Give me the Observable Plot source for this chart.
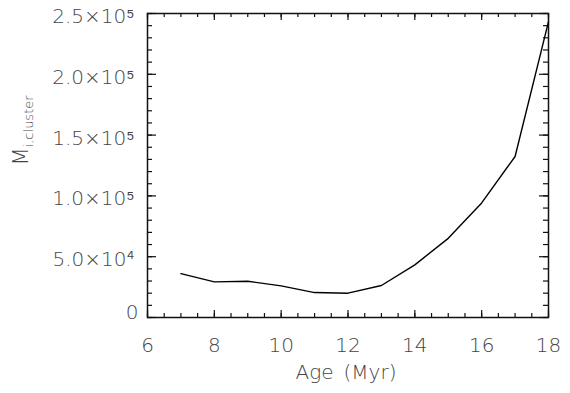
<!DOCTYPE html>
<html>
<head>
<meta charset="utf-8">
<script src="https://cdn.jsdelivr.net/npm/d3@7"></script>
<script src="https://cdn.jsdelivr.net/npm/@observablehq/plot@0.6"></script>
<style>
  html, body { margin: 0; padding: 0; background: #fff; }
  #chart svg { display: block; }
</style>
</head>
<body>
<div id="chart"></div>
<script>
// Data
const ages = [7, 8, 9, 10, 11, 12, 13, 14, 15, 16, 17, 18];
const masses = [36100, 29300, 29800, 26000, 20500, 20000, 26300, 43300, 65100, 94200, 132400, 243300];

// Axis ticks and labels
const xTicks = [6, 8, 10, 12, 14, 16, 18];
const xTickLabels = ["6", "8", "10", "12", "14", "16", "18"];
const yTicks = [0, 50000, 100000, 150000, 200000, 250000];
const yTickLabels = ["0", "5.0×10⁴", "1.0×10⁵", "1.5×10⁵", "2.0×10⁵", "2.5×10⁵"];
const xMinorStep = 0.5;
const yMinorStep = 10000;
const xTitle = "Age\u2002(Myr)";
const yTitleMain = "M";
const yTitleSub = "i,cluster";

const W = 570, H = 393;
const mL = 147, mR = 22, mT = 13, mB = 76;
const fw = W - mL - mR, fh = H - mT - mB;

const data = ages.map((a, i) => ({age: a, mass: masses[i]}));
const xMinor = d3.range(6, 18 + 1e-9, xMinorStep);
const yMinor = d3.range(0, 250000 + 1, yMinorStep);

const xMajLen = 7, xMinLen = 4, yMajLen = 9, yMinLen = 5;
const tickStyle = {stroke: "#111", strokeWidth: 1.2};

const chart = Plot.plot({
  width: W, height: H,
  marginLeft: mL, marginRight: mR, marginTop: mT, marginBottom: mB,
  x: {domain: [6, 18], axis: null},
  y: {domain: [0, 250000], axis: null},
  style: {fontFamily: "'DejaVu Sans', sans-serif", fontSize: "20px", fontWeight: 200, color: "#444", background: "#fff"},
  marks: [
    // inward ticks: bottom & top
    Plot.ruleX(xMinor, {x: d => d, insetTop: fh - xMinLen, ...tickStyle}),
    Plot.ruleX(xMinor, {x: d => d, insetBottom: fh - xMinLen, ...tickStyle}),
    Plot.ruleX(xTicks, {x: d => d, insetTop: fh - xMajLen, ...tickStyle}),
    Plot.ruleX(xTicks, {x: d => d, insetBottom: fh - xMajLen, ...tickStyle}),
    // inward ticks: left & right
    Plot.ruleY(yMinor, {y: d => d, insetRight: fw - yMinLen, ...tickStyle}),
    Plot.ruleY(yMinor, {y: d => d, insetLeft: fw - yMinLen, ...tickStyle}),
    Plot.ruleY(yTicks, {y: d => d, insetRight: fw - yMajLen, ...tickStyle}),
    Plot.ruleY(yTicks, {y: d => d, insetLeft: fw - yMajLen, ...tickStyle}),
    Plot.frame({stroke: "#111", strokeWidth: 1.5}),
    // tick labels
    Plot.text(xTicks, {x: d => d, text: (d, i) => xTickLabels[i], frameAnchor: "bottom", dy: 28, lineAnchor: "middle", fill: "currentColor"}),
    Plot.text(yTicks.slice(1), {y: d => d, text: (d, i) => yTickLabels[i + 1], frameAnchor: "left", textAnchor: "end", dx: -13, dy: 3, fill: "currentColor"}),
    Plot.text(yTicks.slice(0, 1), {y: d => d, text: (d, i) => yTickLabels[i], frameAnchor: "left", textAnchor: "end", dx: -9, dy: -5, fill: "currentColor"}),
    // axis titles
    Plot.text([xTitle], {text: d => d, frameAnchor: "bottom", dy: 55, dx: -2, lineAnchor: "middle", fill: "currentColor"}),
    Plot.text([yTitleMain], {text: d => d, frameAnchor: "left", rotate: -90, dx: -120, lineAnchor: "bottom", fontSize: 21, fill: "currentColor", className: "ytitle"}),
    // the data line
    Plot.line(data, {x: "age", y: "mass", stroke: "#000", strokeWidth: 1.4})
  ]
});

document.getElementById("chart").appendChild(chart);

// add subscript to the y title
const yt = d3.select(chart).select("g.ytitle text");
yt.text(null);
yt.append("tspan").text(yTitleMain);
yt.append("tspan").attr("font-size", "13px").attr("dy", "0.4em").text(yTitleSub);
</script>
</body>
</html>
